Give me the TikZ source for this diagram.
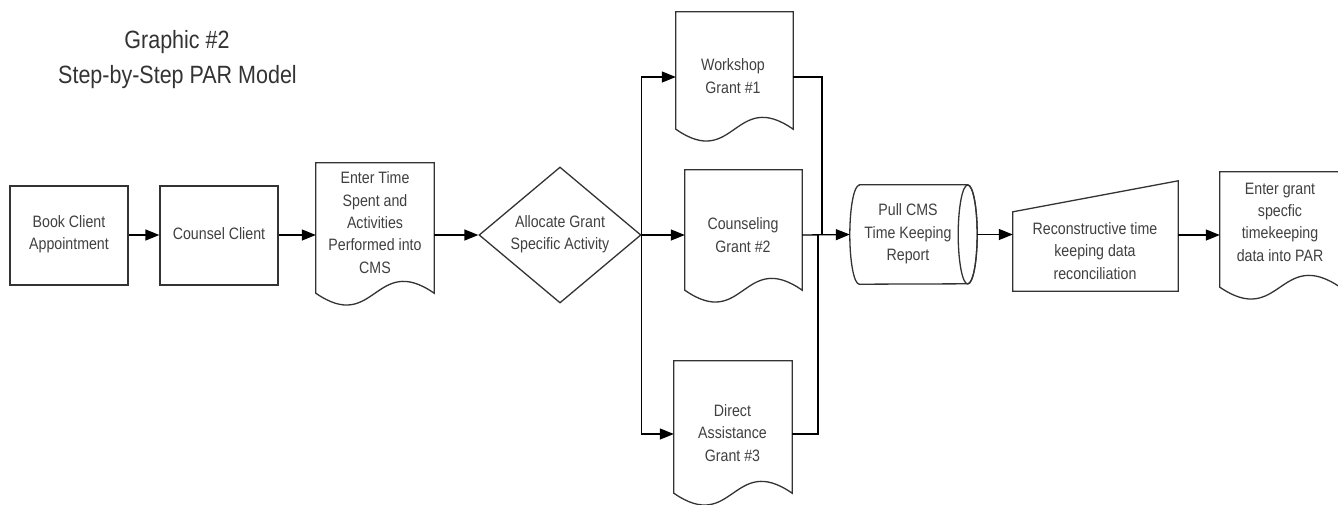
\documentclass[tikz,border=0pt]{standalone}
\usepackage{fontspec}
\setmainfont{Liberation Sans}
\usetikzlibrary{arrows.meta,calc,shapes.geometric}
\begin{document}
\begin{tikzpicture}[x=1pt,y=-1pt,
  shapeline/.style={draw=black!80, line width=1.3pt},
  box/.style={shapeline, rectangle, inner sep=0pt, minimum width=118pt, minimum height=99pt},
  area/.style={rectangle, inner sep=0pt},
  lbl/.style={text=black!75, font=\fontsize{16.5}{22.3}\selectfont, align=center, xscale=0.86, inner sep=0pt},
  ttl/.style={text=black!80, font=\fontsize{25}{35}\selectfont, xscale=0.86, inner sep=0pt, anchor=base},
  flow/.style={draw=black, line width=1.3pt, -{Triangle[length=14pt,width=11pt]}},
  link/.style={draw=black, line width=1.3pt},
  docpath/.style={shapeline, line join=miter},
]
\useasboundingbox (0,0) rectangle (1338,504);

% title
\node[ttl] (t1) at (177,48) {Graphic \#2};
\node[ttl] (t2) at (177.5,83) {Step-by-Step PAR Model};

% guide coordinates
\coordinate (ml) at (0,235);
\coordinate (wy) at (0,77);
\coordinate (dy) at (0,434);

% shapes
\node[box] (b1) at (69,235.5) {};
\node[box] (b2) at (219,235.5) {};
\node[area, minimum width=118pt, minimum height=130pt] (d3) at (375,228) {};
\node[shapeline, diamond, inner sep=0pt, minimum width=162pt, minimum height=136pt] (dia) at (560,235) {};
\node[area, minimum width=117pt, minimum height=117pt] (dW) at (734.5,70.5) {};
\node[area, minimum width=117pt, minimum height=120pt] (dC) at (743.5,230) {};
\node[area, minimum width=118pt, minimum height=132pt] (dD) at (733,427) {};
\node[area, minimum width=127pt, minimum height=99pt] (pc) at (913.5,234.5) {};
\node[area, minimum width=165pt, minimum height=110pt] (mi) at (1095.5,236) {};
\node[area, minimum width=120pt, minimum height=115pt] (dE) at (1280,229.5) {};

% document outlines
\foreach \n in {d3,dW,dC,dD,dE}{
  \draw[docpath] (\n.south west) -- (\n.north west) -- (\n.north east) -- (\n.south east)
    .. controls ($(\n.south)+(0,-41)$) and ($(\n.south)+(0,41)$) .. (\n.south west) -- cycle;
}
% stored data (cylinder on its side)
\draw[shapeline] ([xshift=9.5pt]pc.north west) -- ([xshift=-9.5pt]pc.north east)
  arc[start angle=90, end angle=-90, x radius=9.5pt, y radius=49.5pt]
  -- ([xshift=9.5pt]pc.south west)
  arc[start angle=270, end angle=90, x radius=9.5pt, y radius=49.5pt] -- cycle;
\draw[shapeline] ([xshift=-9.5pt]pc.east) ellipse[x radius=9.5pt, y radius=49.5pt];
% manual input
\draw[shapeline] (mi.south west) -- ([yshift=-31pt]mi.north west) -- (mi.north east) -- (mi.south east) -- cycle;

% labels
\node[lbl] at (69,234.5) {Book Client\\Appointment};
\node[lbl] at (219,234) {Counsel Client};
\node[lbl] at (375,222.5) {Enter Time\\Spent and\\Activities\\Performed into\\CMS};
\node[lbl] at (560,234.5) {Allocate Grant\\Specific Activity};
\node[lbl] at (733,76) {Workshop\\Grant \#1};
\node[lbl] at (743,235) {Counseling\\Grant \#2};
\node[lbl] at (732.5,433) {Direct\\Assistance\\Grant \#3};
\node[lbl] at (908,234) {Pull CMS\\Time Keeping\\Report};
\node[lbl] at (1095,251) {Reconstructive time\\keeping data\\reconciliation};
\node[lbl] at (1280,222) {Enter grant\\specfic\\timekeeping\\data into PAR};

% connectors
\coordinate (m1) at (822,235);
\coordinate (m2) at (818,235);
\draw[flow] (b1.east |- ml) -- (b2.west |- ml);
\draw[flow] (b2.east |- ml) -- (d3.west |- ml);
\draw[flow] (d3.east |- ml) -- (dia.west);
\draw[flow] (dia.east) -- (dC.west |- ml);
\draw[flow] (dia.east) |- (dW.west |- wy);
\draw[flow] (dia.east) |- (dD.west |- dy);
\draw[link] (dW.east |- wy) -| (m1);
\draw[link] (dD.east |- dy) -| (m2);
\draw[flow] (dC.east |- ml) -- (pc.west);
\draw[flow] (pc.east) -- (mi.west |- pc.east);
\draw[flow] (mi.east |- ml) -- (dE.west |- ml);
\end{tikzpicture}
\end{document}
